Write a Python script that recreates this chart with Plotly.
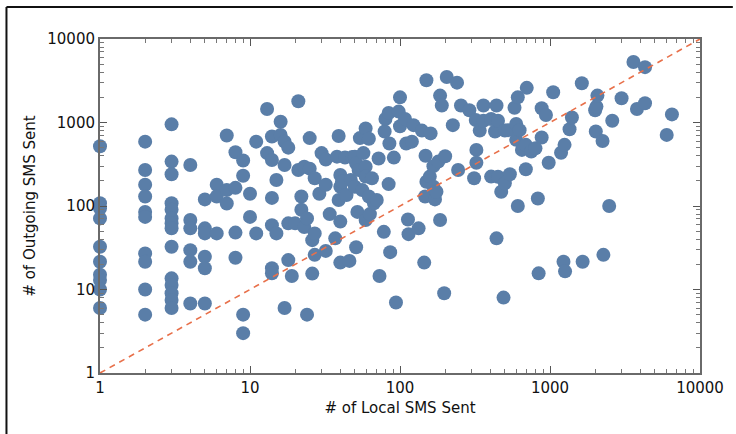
import plotly.graph_objects as go

local_sms = [
    1, 1, 1, 1, 1, 1, 1, 1, 1, 1,
    2, 2, 2, 2, 2, 2, 2, 2, 2, 2,
    3, 3, 3, 3, 3, 3, 3, 3, 3, 3, 3, 3, 3, 3,
    4, 4, 4, 4, 4, 4,
    5, 5, 5, 5, 5, 5,
    6, 6, 6, 7, 7, 7, 8, 8, 8, 8, 9, 9, 9, 9, 10, 10, 11, 11,
    13, 13, 14, 14, 14, 14, 14, 14, 15, 15, 16, 16, 17, 17, 17,
    18, 18, 18, 19, 20, 21, 21, 22, 22, 23, 23, 24, 24, 25, 25,
    26, 26, 27, 27, 27, 29, 30, 32, 32, 32, 34, 37, 38, 39, 39,
    40, 40, 40, 40, 41, 43, 44, 46, 47, 48, 50, 50, 51, 51, 52, 53,
    54, 56, 57, 59, 59, 59, 59, 62, 62, 63, 65, 67, 70, 72, 73,
    78, 79, 80, 84, 84, 85, 86, 91, 94, 98, 100, 100, 108, 110,
    113, 114, 120, 123, 133, 140, 145, 147, 148, 150, 150, 158,
    160, 167, 167, 171, 175, 180, 185, 185, 190, 197, 200, 205,
    225, 240, 244, 255, 290, 312, 320, 323, 323, 340, 360, 360,
    405, 405, 430, 440, 440, 450, 450, 473, 490, 500, 500, 525,
    540, 580, 595, 595, 610, 610, 627, 650, 690, 690, 700, 750,
    800, 830, 840, 880, 880, 940, 980, 1050, 1185, 1230, 1250,
    1260, 1350, 1400, 1630, 1650, 2000, 2020, 2040, 2070, 2240,
    2270, 2480, 2600, 3000, 3600, 3800, 4300, 4300, 6000, 6500,
]
outgoing_sms = [
    520, 108, 94, 71, 32.5, 21.5, 15, 13, 10, 6,
    590, 270, 180, 130, 85, 74, 27, 21.5, 10, 5,
    950, 340, 240, 108, 90, 71, 62, 54, 32.5, 13.6, 11.3, 9, 7.5, 6,
    310, 68, 54, 29.6, 21.5, 6.8,
    120, 54, 47, 24.7, 18, 6.8,
    180, 130, 47, 700, 155, 107, 440, 165, 48, 24, 350, 230, 5, 3, 140, 74, 590, 47,
    1450, 430, 680, 355, 125, 59, 18, 15.6, 205, 47, 1020, 710, 590, 310, 6,
    500, 62, 22.5, 14.5, 62, 1800, 270, 130, 90, 295, 56, 71, 5, 650, 280,
    39, 15.5, 215, 47, 26, 140, 430, 360, 180, 29, 80, 41, 390, 690, 118,
    235, 170, 65, 21, 195, 380, 135, 22, 205, 385, 170, 390, 325, 32, 85, 270,
    650, 155, 430, 850, 295, 225, 68, 640, 130, 80, 215, 108, 118, 370, 14.5,
    49, 780, 1100, 1300, 183, 560, 28, 380, 7, 1350, 2000, 900, 1100, 560,
    69, 46, 590, 930, 54, 800, 21, 130, 400, 3200, 195, 225,
    740, 300, 170, 120, 148, 340, 2100, 68, 1600, 9, 395, 3500,
    930, 3000, 270, 1600, 1400, 215, 1070, 470, 330, 800, 1600, 1050,
    1100, 225, 780, 1600, 41, 1050, 224, 148, 8, 800, 187, 810,
    240, 1500, 960, 620, 2000, 100, 810, 470, 540, 275, 2600, 450,
    490, 123, 15.6, 1480, 660, 1230, 330, 2300, 435, 21.5, 540,
    16.5, 830, 1150, 2950, 21.5, 1400, 780, 1550, 2100, 600,
    26, 100, 1050, 1950, 5300, 1450, 4600, 1700, 710, 1250,
]
diag = [1, 10000]
tick_vals = [1, 10, 100, 1000, 10000]
tick_text = ["1", "10", "100", "1000", "10000"]

fig = go.Figure()
fig.add_trace(go.Scatter(
    x=local_sms, y=outgoing_sms, mode="markers",
    marker=dict(size=14, color="#5a7ea8", line=dict(width=0)),
    showlegend=False, cliponaxis=False,
))
fig.add_trace(go.Scatter(
    x=diag, y=diag, mode="lines",
    line=dict(color="#e8704a", width=1.6, dash="6px,5px"),
    showlegend=False,
))

font = dict(family="DejaVu Sans", size=15, color="#111111")
axis_common = dict(
    type="log", tickvals=tick_vals, ticktext=tick_text,
    showgrid=False, zeroline=False,
    showline=True, linecolor="#6a6a6a", linewidth=2, mirror="ticks",
    ticks="inside", ticklen=7, tickwidth=1, tickcolor="#555555",
    minor=dict(ticks="inside", ticklen=4, tickcolor="#777777", dtick="D1", showgrid=False),
    tickfont=font,
)
fig.update_xaxes(range=[0, 4], title=dict(text="# of Local SMS Sent", font=font, standoff=6), **axis_common)
fig.update_yaxes(range=[0, 4], title=dict(text="# of Outgoing SMS Sent", font=font, standoff=8), **axis_common)

x0 = (6 - 100) / 603
x1 = (736 - 100) / 603
y_top = (373 - 7) / 334
y_bot = (373 - 434) / 334
fig.update_layout(
    width=736, height=434,
    margin=dict(l=100, r=33, t=39, b=61),
    paper_bgcolor="white", plot_bgcolor="white",
    font=font,
    shapes=[
        dict(type="line", xref="paper", yref="paper", x0=x0, x1=x1, y0=y_top, y1=y_top,
             line=dict(color="#111111", width=2)),
        dict(type="line", xref="paper", yref="paper", x0=x0, x1=x0, y0=y_top, y1=y_bot,
             line=dict(color="#111111", width=2)),
    ],
)
fig.write_html(
    "out.html",
    config={"displayModeBar": False},
    post_script="document.body.style.margin='0px';document.body.style.overflow='hidden';",
)
